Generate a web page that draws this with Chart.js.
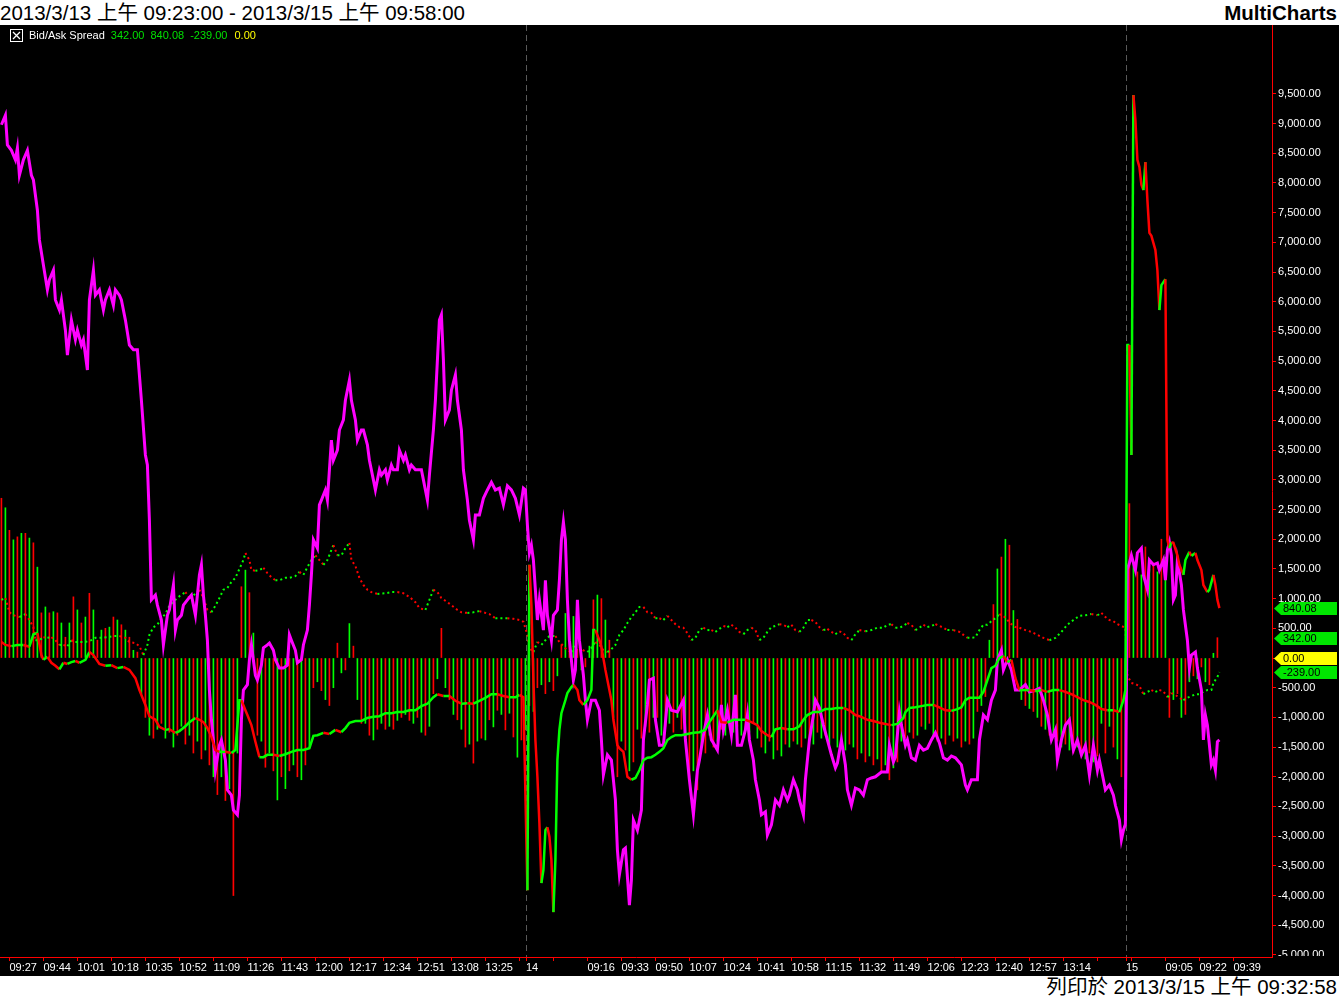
<!DOCTYPE html>
<html>
<head>
<meta charset="utf-8">
<script src="https://cdn.jsdelivr.net/npm/chart.js@4.4.1/dist/chart.umd.min.js"></script>
<style>
  body{margin:0;background:#fff;width:1339px;height:998px;overflow:hidden;font-family:"Liberation Sans",Arial,"Noto Sans CJK TC",sans-serif}
  .top{height:25px;position:relative;font-size:20.5px;line-height:25px;color:#000;white-space:nowrap}
  .top .range{position:absolute;left:0;top:0}
  .top .brand{position:absolute;right:2px;top:0;font-weight:bold}
  .wrap{position:relative;width:1339px;height:951px;background:#000}
  .legend{position:absolute;left:10px;top:4px;font-size:11px;line-height:13px;color:#fff;white-space:nowrap}
  .legend svg{vertical-align:top;margin-right:6px}
  .legend .g{color:#00e000;margin-left:6px}
  .legend .y{color:#ffff00;margin-left:7px}
  .foot{height:22px;text-align:right;padding-right:2px;font-size:20.5px;line-height:22px;color:#000;white-space:nowrap}
</style>
</head>
<body>
<div class="top"><span class="range">2013/3/13 上午 09:23:00 - 2013/3/15 上午 09:58:00</span><span class="brand">MultiCharts</span></div>
<div class="wrap">
  <canvas id="c" width="1339" height="951"></canvas>
  <div class="legend"><svg width="13" height="13"><rect x="0.5" y="0.5" width="12" height="12" fill="none" stroke="#fff"/><path d="M3 3L10 10M10 3L3 10" stroke="#fff" stroke-width="1.3"/></svg>Bid/Ask Spread<span class="g">342.00</span><span class="g">840.08</span><span class="g">-239.00</span><span class="y">0.00</span></div>
</div>
<div class="foot">列印於 2013/3/15 上午 09:32:58</div>
<script>
// x = minute slot: 0 = 3/13 09:23, one slot per 1-minute bar, sessions 08:46-13:45
// ── time axis ──
var tickSlots=[4,21,38,55,72,89,106,123,140,157,174,191,208,225,242,259,262.3,276,293,310,327,344,361,378,395,412,429,446,463,480,497,514,531,548,562.3,565,582,599,616];
var tickLabels=['09:27','09:44','10:01','10:18','10:35','10:52','11:09','11:26','11:43','12:00','12:17','12:34','12:51','13:08','13:25','','14','','09:16','09:33','09:50','10:07','10:24','10:41','10:58','11:15','11:32','11:49','12:06','12:23','12:40','12:57','13:14','','15','','09:05','09:22','09:39'];
var sessionBreaks=[262.3,562.3];

// ── histogram, one bar per 2 slots ──
var histVals=[
 2690,2530,2150,1990,2040,2100,2100,2020,1940,1530,
 760,860,760,780,760,590,350,590,1030,810,
 590,690,1090,810,300,470,500,520,690,640,
 560,470,350,130,100,-600,-1000,-1300,-1350,-1200,
 -1100,-1350,-1250,-1500,-1300,-1150,-1450,-1300,-1600,-1400,
 -1700,-1550,-1800,-2000,-2300,-2000,-2400,-2200,-4000,-1600,
 1200,1480,1100,420,-1300,-1400,-1840,-1600,-1900,-2390,
 -2000,-2200,-1900,-1800,-2000,-2050,-1800,-1500,-500,-400,
 -550,-700,-800,-500,250,-250,-200,580,200,-700,
 -1100,-1100,-1300,-1380,-1200,-1100,-1200,-1150,-1200,-1050,
 -1000,-950,-1050,-1100,-1000,-1250,-1300,-1150,-600,-350,
 500,-500,-700,-950,-1040,-1200,-1500,-1450,-1770,-1400,
 -1350,-1380,-1040,-1160,-880,-950,-1210,-930,-1330,-1670,-1380,-1210,
 // 3/14
 -800,-900,-500,-450,-600,-400,-550,-300,220,750,
 250,700,150,-200,-150,200,980,1060,1000,640,
 300,-1000,-2000,-1400,-1550,-1900,-1750,-1200,-1350,-1150,
 -1250,-1000,-1000,-1300,-1150,-1100,-1250,-1000,-1200,-1300,
 -2000,-1900,-2220,-1500,-1600,-1300,-1500,-1400,-1200,-1300,
 -1100,-1250,-1150,-1300,-1200,-1250,-1100,-1350,-1500,-1600,
 -1400,-1700,-1550,-1650,-1450,-1500,-1400,-1450,-1500,-1350,
 -1400,-1450,-1250,-1350,-1300,-1450,-1350,-1500,-1400,-1550,
 -1450,-1500,-1700,-1600,-1750,-1650,-1800,-1700,-1900,-1800,
 -2050,-1850,-1750,-1400,-1350,-1250,-1350,-1300,-1150,-1200,
 -1100,-1300,-1400,-1350,-1450,-1300,-1400,-1350,-1500,-1400,
 -1450,-1350,-900,-800,-650,300,900,1500,1700,2000,
 1900,800,650,-700,-800,-850,-900,-1000,-1150,-1200,
 -1300,-1250,-1400,-1500,-1450,-1550,-1600,-1500,-1650,-1700,
 -1600,-1750,-1650,-1100,-1600,-1150,-1500,-1700,-2000,-2200,
 // 3/15
 2600,1600,1450,1400,1870,1500,1600,1450,2000,1700,
 -1000,-700,-600,-1000,-950,-400,-300,-350,-150,-400,-450,80,342
];

// ── solid line [slot, value] ──
var linePts=[
 [0,270],[2,220],[5,200],[8,220],[11,220],[14,190],[16,400],[18,420],[20,50],[21,-30],[23,20],[25,-80],[27,-130],[29,-190],[31,-80],[33,-100],[35,-70],[37,-50],[39,-80],[42,-30],[44,100],[46,50],[49,-100],[52,-130],[55,-120],[58,-170],[61,-150],[64,-200],[67,-340],[69,-540],[72,-790],[74,-980],[77,-1040],[79,-1160],[82,-1210],[84,-1200],[87,-1260],[89,-1230],[92,-1150],[94,-1080],[97,-1010],[99,-1040],[101,-1080],[103,-1180],[105,-1330],[107,-1550],[109,-1580],[112,-1580],[115,-1600],[117,-1550],[119,-710],[120,-710],[122,-880],[123,-960],[125,-1130],[127,-1410],[129,-1670],[131,-1670],[133,-1630],[136,-1630],[139,-1650],[142,-1620],[145,-1580],[148,-1550],[151,-1550],[154,-1520],[156,-1310],[158,-1300],[161,-1260],[164,-1280],[167,-1210],[170,-1250],[172,-1180],[174,-1090],[177,-1060],[180,-1060],[183,-1010],[186,-990],[189,-980],[192,-930],[195,-930],[198,-910],[201,-910],[204,-880],[207,-880],[210,-810],[213,-770],[216,-660],[218,-610],[221,-640],[224,-640],[227,-720],[230,-770],[233,-760],[236,-770],[239,-720],[242,-670],[245,-610],[248,-610],[251,-640],[254,-660],[257,-660],[259,-620],[261,-660],
 [263,-3910],[264,1570],[265,890],[266,-370],[267,-1380],[268,-2000],[269,-2780],[270,-3790],[271,-3570],[272,-2900],[273,-2850],[274,-3010],[275,-3400],[276,-4280],[277,-3400],[278,-1720],[279,-1210],[280,-930],[282,-710],[283,-590],[285,-490],[286,-450],[288,-540],[289,-710],[291,-790],[293,-710],[295,-540],[296,470],[297,470],[299,300],[300,190],[302,-200],[303,-370],[305,-710],[306,-1040],[308,-1470],[309,-1520],[311,-1580],[313,-2000],[315,-2050],[317,-2020],[319,-1890],[321,-1720],[323,-1680],[325,-1670],[327,-1630],[329,-1580],[331,-1520],[333,-1380],[335,-1330],[337,-1300],[340,-1300],[343,-1280],[346,-1260],[349,-1250],[352,-1210],[354,-1080],[356,-980],[358,-880],[360,-1080],[363,-1090],[366,-1040],[369,-1040],[372,-1040],[375,-1080],[378,-1130],[380,-1230],[383,-1300],[385,-1330],[387,-1200],[390,-1180],[393,-1200],[396,-1200],[399,-1150],[401,-1040],[403,-960],[406,-910],[409,-910],[412,-860],[415,-860],[418,-840],[421,-840],[424,-880],[427,-960],[430,-990],[433,-1040],[436,-1060],[439,-1090],[442,-1110],[445,-1130],[448,-1110],[451,-1010],[452,-910],[454,-840],[457,-830],[460,-810],[463,-790],[466,-790],[469,-830],[472,-880],[475,-890],[478,-860],[480,-830],[482,-710],[484,-670],[487,-670],[489,-670],[491,-570],[493,-370],[495,-170],[497,-130],[499,0],[501,30],[503,-70],[505,-30],[507,-340],[509,-540],[512,-540],[514,-540],[517,-560],[520,-540],[523,-570],[526,-540],[529,-540],[532,-570],[535,-610],[538,-660],[541,-710],[544,-740],[547,-790],[550,-860],[553,-880],[556,-880],[559,-910],[561,-710],[562,-540],
 [563,5270],[564,5270],[565,3420],[566,9480],[567,9060],[568,8390],[569,8270],[570,7970],[571,7880],[572,8350],[573,7710],[574,7160],[575,7110],[577,6870],[578,6530],[579,5860],[580,6280],[581,6330],[582,6380],[583,1990],[584,1850],[585,1950],[586,1940],[588,1730],[589,1570],[591,1400],[592,1650],[594,1790],[595,1720],[597,1770],[598,1650],[600,1480],[601,1230],[603,1110],[604,1150],[606,1400],[607,1230],[608,980],[609,840.08]
];

// ── dotted line [slot, value] ──
var dotPts=[
 [0,980],[2,1010],[4,770],[6,720],[9,690],[12,740],[14,640],[16,520],[17,300],[19,300],[21,350],[23,340],[25,350],[27,300],[29,220],[31,220],[33,200],[35,300],[37,270],[39,270],[42,270],[45,300],[47,340],[50,340],[53,350],[56,370],[59,370],[62,340],[64,270],[67,250],[69,200],[71,50],[73,220],[74,390],[76,520],[78,560],[80,670],[82,740],[84,880],[87,980],[89,1040],[92,1110],[94,1010],[97,1080],[99,1150],[101,1010],[103,810],[105,770],[107,880],[109,1010],[111,1150],[113,1180],[115,1280],[117,1350],[119,1500],[121,1650],[122,1770],[124,1650],[125,1480],[127,1470],[129,1480],[131,1520],[133,1430],[135,1360],[137,1310],[139,1310],[142,1350],[144,1350],[147,1380],[149,1450],[151,1400],[153,1530],[155,1650],[157,1730],[159,1650],[161,1570],[163,1650],[165,1820],[166,1900],[168,1730],[170,1730],[172,1850],[174,1940],[175,1650],[177,1550],[179,1350],[181,1230],[183,1150],[185,1110],[188,1080],[192,1090],[195,1110],[198,1110],[201,1090],[204,1030],[207,940],[209,840],[212,810],[214,980],[216,1150],[218,1110],[220,1010],[223,940],[225,890],[228,810],[230,770],[233,760],[236,770],[239,790],[241,770],[244,740],[247,670],[250,670],[253,670],[256,660],[259,640],[261,610],
 [263,390],[264,170],[266,100],[268,270],[270,220],[272,300],[274,370],[277,370],[279,270],[281,200],[283,130],[285,100],[287,250],[289,190],[291,130],[293,100],[295,170],[297,270],[299,220],[301,130],[303,100],[305,150],[307,220],[309,390],[311,470],[313,590],[315,690],[317,770],[319,860],[321,860],[323,770],[325,760],[327,670],[329,670],[331,640],[333,710],[335,640],[337,570],[339,520],[341,510],[343,420],[345,300],[347,340],[349,470],[351,510],[353,470],[355,470],[357,440],[359,490],[361,540],[363,520],[365,560],[367,510],[369,440],[371,400],[373,470],[375,510],[377,470],[379,300],[381,340],[383,440],[385,520],[387,540],[389,570],[391,560],[393,520],[395,560],[397,470],[399,440],[401,510],[403,640],[405,640],[407,610],[409,520],[411,470],[413,490],[415,440],[417,400],[419,450],[421,420],[423,340],[425,300],[427,400],[429,470],[432,450],[435,470],[438,510],[441,510],[443,560],[445,570],[447,510],[449,510],[451,540],[453,590],[455,560],[457,470],[459,510],[461,560],[463,520],[465,540],[467,570],[469,540],[471,510],[473,470],[476,470],[479,440],[481,390],[483,340],[485,340],[487,350],[489,470],[491,560],[493,560],[495,620],[497,670],[499,740],[501,710],[503,640],[505,570],[507,520],[509,510],[512,470],[515,440],[518,390],[521,340],[524,300],[527,340],[530,440],[533,560],[536,640],[539,710],[542,720],[545,740],[548,720],[550,760],[552,690],[554,640],[556,620],[558,570],[560,540],[562,510],
 [563,-300],[565,-420],[567,-440],[569,-470],[571,-610],[573,-570],[575,-540],[577,-570],[579,-540],[581,-560],[583,-660],[585,-590],[587,-620],[589,-670],[591,-710],[593,-670],[595,-640],[597,-610],[599,-610],[601,-570],[603,-540],[605,-540],[606,-420],[608,-320],[609,-239]
];

// ── magenta spread line [slot, value] ──
var spreadPts=[
 [0,8980],[2,9140],[3,8640],[5,8550],[7,8390],[8,8590],[9,8130],[11,8390],[13,8550],[15,8130],[16,8050],[18,7540],[19,7040],[21,6620],[23,6200],[24,6370],[26,6530],[27,6030],[29,5860],[30,6030],[32,5520],[33,5100],[35,5690],[37,5360],[38,5520],[40,5270],[41,5360],[43,4850],[44,6030],[46,6530],[47,6110],[49,6200],[51,5860],[52,6030],[54,6200],[56,5940],[57,6200],[59,6110],[60,6030],[62,5690],[64,5270],[66,5190],[68,5190],[70,4340],[72,3420],[73,3250],[74,2320],[75,980],[77,1060],[78,890],[80,640],[81,220],[83,720],[84,810],[86,1230],[87,470],[88,640],[90,720],[91,890],[93,980],[95,1060],[96,890],[97,720],[99,1400],[100,1570],[101,1060],[102,720],[103,300],[104,-540],[105,-1040],[106,-1380],[107,-1890],[109,-1470],[110,-1380],[112,-1720],[113,-2220],[115,-2310],[116,-2560],[118,-2640],[119,-2310],[120,-1040],[121,-540],[123,-450],[124,-30],[125,220],[127,-290],[128,-370],[130,-120],[131,170],[133,220],[134,250],[136,130],[137,-30],[139,-170],[141,-170],[143,-120],[144,390],[145,300],[147,130],[148,-80],[150,-30],[151,220],[153,470],[154,890],[155,1400],[156,1990],[158,1850],[159,2580],[160,2660],[162,2830],[163,2660],[165,3670],[166,3330],[168,3500],[169,3840],[171,4010],[172,4340],[174,4680],[175,4340],[177,4010],[178,3670],[180,3840],[181,3840],[183,3590],[184,3330],[186,3000],[187,2830],[189,3170],[190,3080],[192,3170],[193,3000],[195,3250],[196,3170],[198,3170],[199,3500],[201,3330],[202,3420],[204,3170],[205,3250],[207,3170],[208,3170],[210,3170],[211,3000],[213,2660],[214,3080],[216,3840],[217,4340],[219,5690],[220,5780],[221,5020],[222,4010],[224,4180],[225,4510],[227,4770],[228,4340],[230,3840],[231,3170],[233,2660],[234,2320],[236,1990],[237,2410],[239,2410],[241,2690],[243,2830],[245,2960],[247,2830],[249,2860],[251,2580],[253,2900],[255,2830],[257,2690],[259,2410],[261,2860],[262,2830],
 [263,2240],[264,1770],[265,1900],[266,1650],[268,640],[269,980],[271,470],[272,1310],[273,720],[275,300],[276,720],[278,810],[279,1310],[280,1990],[281,2290],[282,1990],[283,980],[284,300],[286,-370],[287,-200],[288,980],[289,300],[291,-290],[292,-710],[293,-1040],[295,-710],[297,-710],[299,-880],[300,-1380],[301,-1970],[303,-1630],[305,-1720],[307,-2390],[308,-3230],[309,-3650],[311,-3230],[312,-3200],[314,-4160],[315,-3740],[316,-2730],[318,-2900],[320,-2560],[321,-1380],[323,-790],[324,-370],[326,-340],[327,-1040],[329,-1470],[331,-1470],[333,-710],[335,-880],[338,-910],[341,-710],[342,-1380],[344,-2050],[346,-2640],[348,-1890],[349,-1720],[351,-1300],[353,-960],[355,-1380],[356,-1430],[358,-1550],[360,-790],[361,-1210],[363,-880],[365,-1300],[367,-620],[368,-1470],[370,-1470],[372,-1210],[373,-960],[374,-1380],[376,-1720],[377,-2050],[379,-2390],[380,-2640],[382,-2590],[383,-2980],[385,-2810],[387,-2390],[389,-2480],[391,-2220],[393,-2390],[394,-2310],[396,-2050],[398,-2220],[399,-2390],[401,-2640],[402,-2050],[404,-1380],[406,-960],[407,-710],[409,-840],[411,-1130],[413,-1380],[415,-1630],[417,-1850],[418,-1770],[420,-1380],[422,-1800],[423,-2220],[425,-2480],[427,-2190],[429,-2220],[431,-2310],[433,-2050],[435,-2020],[437,-2000],[440,-1920],[443,-1920],[444,-1470],[446,-1750],[447,-1670],[449,-910],[450,-1130],[452,-1470],[453,-1380],[455,-1680],[457,-1720],[459,-1470],[461,-1550],[463,-1520],[465,-1380],[467,-1260],[469,-1430],[471,-1680],[473,-1720],[475,-1650],[477,-1680],[480,-1800],[482,-2140],[483,-2220],[485,-2050],[488,-2050],[489,-1380],[491,-960],[493,-1040],[495,-710],[497,-540],[498,-30],[500,130],[501,-200],[503,-30],[505,-200],[507,-540],[509,-540],[512,-450],[514,-570],[517,-540],[519,-510],[521,-710],[523,-960],[525,-1380],[527,-1210],[528,-1720],[530,-1380],[532,-1130],[534,-1040],[536,-1550],[538,-1380],[540,-1630],[542,-1470],[544,-1970],[546,-1470],[548,-1890],[549,-1720],[551,-2050],[552,-2220],[554,-2140],[556,-2310],[557,-2480],[559,-2730],[560,-3060],[561,-2900],[562,-2800],
 [563,1500],[564,1600],[565,1730],[567,1480],[568,1770],[570,1850],[571,1400],[573,1150],[574,1650],[576,1570],[578,1600],[579,1480],[581,1650],[582,1310],[583,1820],[584,1950],[585,1730],[586,980],[587,1060],[588,1650],[590,1230],[591,810],[593,300],[594,-170],[595,50],[597,100],[598,-170],[600,-540],[601,-1380],[602,-960],[603,-1130],[605,-1800],[606,-1720],[607,-1890],[608,-1410],[609,-1380]
];

// last values shown on the price axis (histogram, line, dotted, zero)
var lastVals=[342,840.08,-239,0];

var RED='#ff0000', GREEN='#00ff00', MAGENTA='#ff00ff';
var tagColors=['#00e600','#00e600','#00e600','#ffff00'];

Chart.defaults.font.family='"Liberation Sans", Arial, sans-serif';

function toXY(p){return {x:p[0],y:p[1]}}
function dirColor(c){return c.p1.parsed.y>=c.p0.parsed.y?GREEN:RED}
function fmt(v){return v.toLocaleString('en-US',{minimumFractionDigits:2,maximumFractionDigits:2})}

var extras={
  id:'extras',
  beforeDatasetsDraw:function(chart){
    var ctx=chart.ctx, x=chart.scales.x, a=chart.chartArea;
    ctx.save();
    ctx.strokeStyle='#5a5a5a'; ctx.lineWidth=1; ctx.setLineDash([6,4]);
    sessionBreaks.forEach(function(s){
      var px=Math.round(x.getPixelForValue(s))+0.5;
      ctx.beginPath(); ctx.moveTo(px,a.top); ctx.lineTo(px,a.bottom); ctx.stroke();
    });
    ctx.restore();
  },
  afterDraw:function(chart){
    var ctx=chart.ctx, y=chart.scales.y, a=chart.chartArea;
    ctx.save();
    // the price scale is cut by the time-axis strip
    ctx.fillStyle='#000';
    ctx.fillRect(a.right+1,a.bottom-1,chart.width-a.right,chart.height-a.bottom+1);
    ctx.font='11px "Liberation Sans", Arial, sans-serif';
    ctx.textBaseline='middle';
    lastVals.forEach(function(v,i){
      var py=Math.round(y.getPixelForValue(v));
      var x0=a.right+2;
      ctx.fillStyle=tagColors[i];
      ctx.beginPath();
      ctx.moveTo(x0,py+0.5); ctx.lineTo(x0+7,py-6); ctx.lineTo(chart.width-2,py-6);
      ctx.lineTo(chart.width-2,py+7); ctx.lineTo(x0+7,py+7); ctx.closePath(); ctx.fill();
      ctx.fillStyle='#000';
      ctx.fillText(v.toFixed(2),x0+9,py+1);
    });
    ctx.restore();
  }
};

new Chart(document.getElementById('c'),{
  type:'bar',
  data:{datasets:[
    {type:'line',data:linePts.map(toXY),borderColor:GREEN,borderWidth:2.5,pointRadius:0,tension:0,order:1,segment:{borderColor:dirColor}},
    {type:'line',data:spreadPts.map(toXY),borderColor:MAGENTA,borderWidth:3,pointRadius:0,tension:0,order:2},
    {type:'line',data:dotPts.map(toXY),borderColor:GREEN,borderWidth:2,borderDash:[2,3],pointRadius:0,tension:0,order:3,segment:{borderColor:dirColor}},
    {type:'bar',data:histVals.map(function(v,i){return {x:2*i,y:v}}),backgroundColor:function(c){return c.dataIndex%2?GREEN:RED},barThickness:1,borderWidth:0,order:4}
  ]},
  options:{
    responsive:false,animation:false,events:[],devicePixelRatio:1,
    layout:{padding:0},
    plugins:{legend:{display:false},tooltip:{enabled:false}},
    scales:{
      x:{type:'linear',min:-0.7,max:635.3,offset:false,
        afterBuildTicks:function(s){s.ticks=tickSlots.map(function(v){return {value:v}})},
        afterFit:function(s){s.height=19;s.paddingLeft=0;s.paddingRight=0},
        ticks:{autoSkip:false,maxRotation:0,minRotation:0,align:'start',padding:0,color:'#fff',font:{size:11},
          callback:function(v,i){return tickLabels[i]}},
        grid:{drawOnChartArea:false,drawTicks:true,tickLength:4,color:RED,offset:false},
        border:{color:RED,width:1}},
      y:{position:'right',min:-5035,max:10660,
        afterBuildTicks:function(s){var t=[];for(var v=-5000;v<=9750;v+=250)t.push({value:v});s.ticks=t},
        afterFit:function(s){s.width=67;s.paddingTop=0;s.paddingBottom=0},
        ticks:{color:'#fff',padding:2,font:{size:11},callback:function(v){return v%500===0?fmt(v):''}},
        grid:{drawOnChartArea:false,drawTicks:true,tickLength:4,color:RED},
        border:{color:RED,width:1}}
    }
  },
  plugins:[extras]
});
</script>
</body>
</html>
